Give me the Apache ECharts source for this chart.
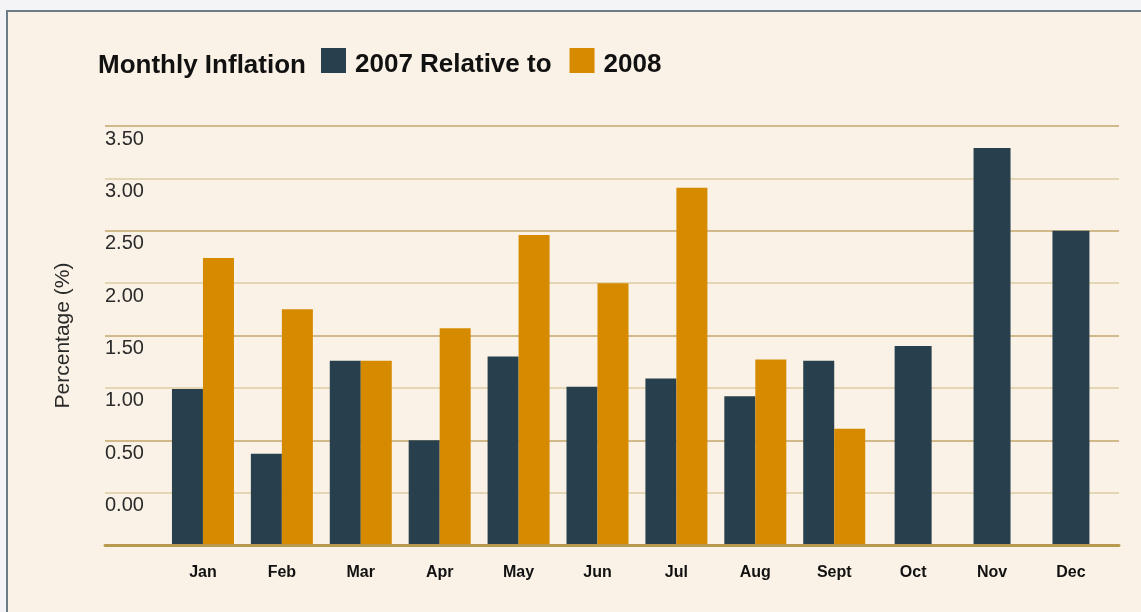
<!DOCTYPE html>
<html>
<head>
<meta charset="utf-8">
<script src="https://cdn.jsdelivr.net/npm/echarts@6/dist/echarts.min.js"></script>
<style>
  html, body { margin: 0; padding: 0; background: #f4f4f6; overflow: hidden; }
  /* 外框 */
  #frame {
    position: absolute; left: 6px; top: 10px;
    width: 1160px; height: 640px;
    border: 2px solid #6b7b88;
    background: #faf2e6;
  }
  #chart { position: absolute; left: 0; top: 0; width: 1141px; height: 612px; }
</style>
</head>
<body>
<div id="frame"></div>
<div id="chart"></div>
<script>
// 月份
const months = ['Jan', 'Feb', 'Mar', 'Apr', 'May', 'Jun', 'Jul', 'Aug', 'Sept', 'Oct', 'Nov', 'Dec']
// 2007 / 2008 數值 (以坐標軸底線為 0)
const values2007 = [1.49, 0.87, 1.76, 1.00, 1.80, 1.51, 1.59, 1.42, 1.76, 1.90, 3.79, 3.00]
const values2008 = [2.74, 2.25, 1.76, 2.07, 2.96, 2.50, 3.41, 1.77, 1.11, null, null, null]
// Y 軸刻度文字 (由下往上)
const yTickLabels = ['', '0.00', '0.50', '1.00', '1.50', '2.00', '2.50', '3.00', '3.50']

const DARK = '#28404d'
const ORANGE = '#d68a00'
const FONT = "'Liberation Sans', Arial, Helvetica, sans-serif"

// 有兩年資料的月份並排, 只有 2007 的月份置中
const paired2007 = values2007.map((v, i) => (values2008[i] == null ? '-' : v))
const single2007 = values2007.map((v, i) => (values2008[i] == null ? v : '-'))

const myChart = echarts.init(document.getElementById('chart'))

myChart.setOption({
  animation: false,
  backgroundColor: 'transparent',
  textStyle: { fontFamily: FONT },

  title: {
    text: 'Monthly Inflation',
    left: 98,
    top: 53,
    padding: 0,
    textStyle: { fontSize: 26, fontWeight: 'bold', color: '#111', fontFamily: FONT }
  },

  legend: {
    data: ['2007 Relative to', '2008'],
    left: 321,
    top: 48,
    padding: 0,
    itemWidth: 25,
    itemHeight: 25,
    itemGap: 18,
    icon: 'rect',
    formatter: name => '{t|' + name + '}',
    textStyle: {
      color: '#111',
      rich: {
        t: { fontSize: 26, fontWeight: 'bold', color: '#111', fontFamily: FONT, padding: [9, 0, 0, 4] }
      }
    }
  },

  // grid 0: 格線與 Y 軸文字, grid 1: 長條
  grid: [
    { left: 105, right: 22, top: 126, bottom: 67 },
    { left: 163.5, right: 30.6, top: 126, bottom: 67 }
  ],

  xAxis: [
    {
      gridIndex: 0,
      type: 'value',
      min: 0,
      max: 1,
      z: 10,
      axisLine: { show: true, lineStyle: { color: '#b8994e', width: 3 } },
      axisTick: { show: false },
      axisLabel: { show: false },
      splitLine: { show: false }
    },
    {
      gridIndex: 1,
      type: 'category',
      data: months,
      axisLine: { show: false },
      axisTick: { show: false },
      axisLabel: { margin: 20, fontSize: 16, fontWeight: 'bold', color: '#111', fontFamily: FONT }
    },
    {
      gridIndex: 1,
      type: 'category',
      data: months,
      show: false
    }
  ],

  yAxis: [
    {
      gridIndex: 0,
      type: 'value',
      min: 0,
      max: 4,
      interval: 0.5,
      name: 'Percentage (%)',
      nameLocation: 'middle',
      nameGap: 31,
      nameRotate: 90,
      nameTextStyle: { fontSize: 21, color: '#2a2a2a', fontFamily: FONT },
      axisLine: { show: false },
      axisTick: { show: false },
      axisLabel: {
        inside: true,
        margin: 0,
        align: 'left',
        verticalAlign: 'top',
        padding: [3, 0, 0, 0],
        fontSize: 20,
        color: '#2a2a2a',
        fontFamily: FONT,
        formatter: (value, index) => yTickLabels[index] || ''
      },
      splitLine: { show: true, lineStyle: { color: ['#c3a66b', '#dccba3'], width: 1.5 } }
    },
    {
      gridIndex: 1,
      type: 'value',
      min: 0,
      max: 4,
      show: false,
      splitLine: { show: false }
    }
  ],

  series: [
    {
      name: '2007 Relative to',
      type: 'bar',
      xAxisIndex: 1,
      yAxisIndex: 1,
      data: paired2007,
      barWidth: 31,
      barGap: '0%',
      itemStyle: { color: DARK }
    },
    {
      name: '2008',
      type: 'bar',
      xAxisIndex: 1,
      yAxisIndex: 1,
      data: values2008.map(v => (v == null ? '-' : v)),
      barWidth: 31,
      barGap: '0%',
      itemStyle: { color: ORANGE }
    },
    {
      name: '2007 Relative to',
      type: 'bar',
      xAxisIndex: 2,
      yAxisIndex: 1,
      data: single2007,
      barWidth: 37,
      itemStyle: { color: DARK }
    }
  ]
})
</script>
</body>
</html>
